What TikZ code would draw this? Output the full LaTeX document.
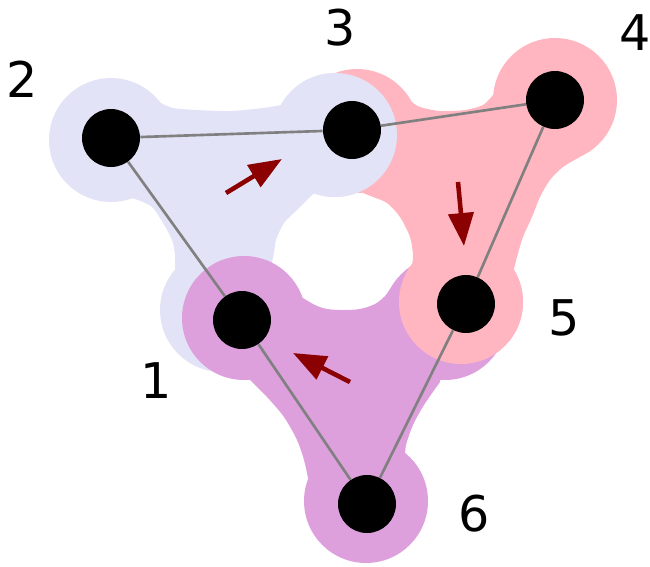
\documentclass[tikz,border=0pt]{standalone}
\usepackage{fontspec}
\setmainfont{DejaVu Sans}
\usetikzlibrary{arrows.meta}
\definecolor{lav}{HTML}{E3E3F7}
\definecolor{pinkb}{HTML}{FFB6C1}
\definecolor{plumb}{HTML}{DDA0DD}
\definecolor{arr}{HTML}{8B0000}
\newcommand{\blobr}{1.24cm}

\begin{document}
\begin{tikzpicture}[x=0.02cm,y=-0.02cm,
    vtx/.style={circle,fill=black,inner sep=0pt,minimum size=1.16cm},
    lbl/.style={inner sep=0pt,font=\fontsize{28}{28}\selectfont},
    link/.style={draw=gray,line width=1.5pt},
    flow/.style={-{Triangle[length=0.66cm,width=0.5cm]},draw=arr,line width=2.6pt}]
    \useasboundingbox (0,0) rectangle (650,566);

    % cluster 1-2-3
    \fill[lav] (111,140) circle[radius=\blobr] (335,135) circle[radius=\blobr] (222,310) circle[radius=\blobr];
    \fill[lav] (111,140) -- plot[smooth] coordinates {(161,103) (173,108) (197,110) (230,111) (263,108) (281,105)}
        -- (335,135) -- plot[smooth] coordinates {(314,193) (297,210) (284,223) (276,240) (274,253) (270,270)}
        -- (222,310) -- plot[smooth] coordinates {(175,270) (175,255) (172,240) (163,223) (153,208) (143,202) (132,198)}
        -- cycle;

    % cluster 3-4-5
    \fill[pinkb] (357,131) circle[radius=\blobr] (555,100) circle[radius=\blobr] (461,302) circle[radius=\blobr];
    \fill[pinkb] (357,131) -- plot[smooth] coordinates {(412,102) (420,107) (440,111) (465,110) (483,105) (493,95)}
        -- (555,100) -- plot[smooth] coordinates {(580,157) (563,167) (550,180) (540,197) (532,217) (523,237) (517,257) (514,269)}
        -- (461,302) -- plot[smooth] coordinates {(412,265) (413,255) (410,237) (400,217) (387,203) (373,197) (363,193)}
        -- cycle;

    % cluster 1-5-6
    \fill[plumb] (244,318) circle[radius=\blobr] (445,318) circle[radius=\blobr] (366,501) circle[radius=\blobr];
    \fill[plumb] (244,318) -- plot[smooth] coordinates {(303,298) (315,305) (327,309) (343,310) (360,309) (375,304) (385,296) (392,286)}
        -- (445,318) -- plot[smooth] coordinates {(440,382) (424,405) (413,425) (406,445) (405,458)}
        -- (366,501) -- plot[smooth] coordinates {(308,478) (304,460) (297,440) (284,417) (267,397) (250,380)}
        -- cycle;

    \fill[lav] (335,135) circle[radius=\blobr];
    \fill[pinkb] (461,302) circle[radius=\blobr];

    \node[vtx] (n1) at (242,320) {};
    \node[vtx] (n2) at (111,138) {};
    \node[vtx] (n3) at (352,130) {};
    \node[vtx] (n4) at (555,100) {};
    \node[vtx] (n5) at (466,304) {};
    \node[vtx] (n6) at (367,504) {};

    \draw[link] (n2) -- (n3) -- (n4) -- (n5) -- (n6) -- (n1) -- (n2);

    \coordinate (a1) at (226,193);
    \coordinate (b1) at (282,159);
    \coordinate (a2) at (458,182);
    \coordinate (b2) at (464,246);
    \coordinate (a3) at (350,382);
    \coordinate (b3) at (293,353);
    \draw[flow] (a1) -- (b1);
    \draw[flow] (a2) -- (b2);
    \draw[flow] (a3) -- (b3);

    \node[lbl] (l1) at (156,381) {1};
    \node[lbl] (l2) at (22,79) {2};
    \node[lbl] (l3) at (340,28) {3};
    \node[lbl] (l4) at (635,33) {4};
    \node[lbl] (l5) at (564,318) {5};
    \node[lbl] (l6) at (474,514) {6};
\end{tikzpicture}
\end{document}
